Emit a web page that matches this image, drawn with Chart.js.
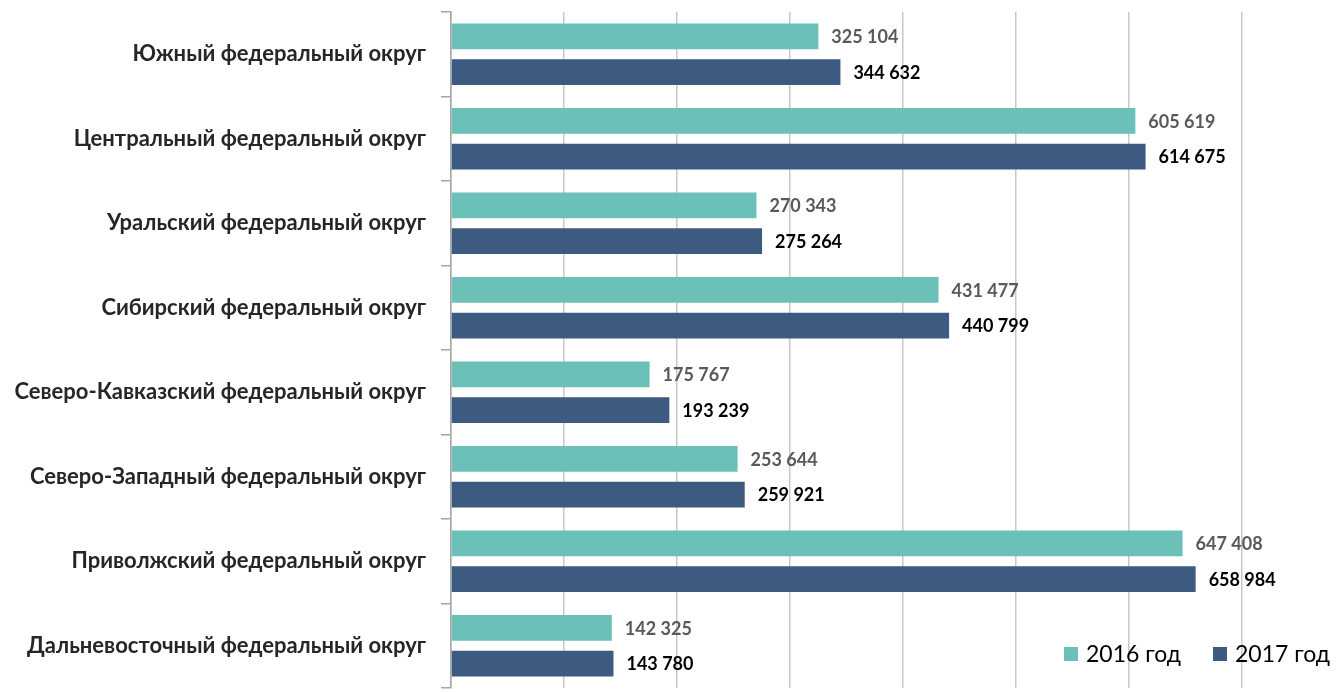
<!DOCTYPE html>
<html><head><meta charset="utf-8">
<script src="https://cdn.jsdelivr.net/npm/chart.js@4"></script>
<style>html,body{margin:0;padding:0;background:#fff;}#wrap{width:1344px;height:692px;}</style>
</head><body><div id="wrap"><canvas id="c" width="1344" height="692"></canvas></div>
<script>
const categories = [
  'Южный федеральный округ',
  'Центральный федеральный округ',
  'Уральский федеральный округ',
  'Сибирский федеральный округ',
  'Северо-Кавказский федеральный округ',
  'Северо-Западный федеральный округ',
  'Приволжский федеральный округ',
  'Дальневосточный федеральный округ'
];
const values2016 = [325104, 605619, 270343, 431477, 175767, 253644, 647408, 142325];
const values2017 = [344632, 614675, 275264, 440799, 193239, 259921, 658984, 143780];
const seriesLabels = ['2016 год', '2017 год'];
const xTicks = [0, 100000, 200000, 300000, 400000, 500000, 600000, 700000];

const FONT = 'Lato';
const fmt = v => String(v).replace(/\B(?=(\d{3})+(?!\d))/g, ' ');

const valueLabels = {
  id: 'valueLabels',
  afterDatasetsDraw(chart) {
    const ctx = chart.ctx;
    ctx.save();
    ctx.textBaseline = 'middle';
    ctx.textAlign = 'left';
    ctx.font = 'bold 18px ' + FONT;
    chart.data.datasets.forEach((ds, i) => {
      const meta = chart.getDatasetMeta(i);
      ctx.fillStyle = i === 0 ? '#595959' : '#000000';
      meta.data.forEach((bar, j) => {
        ctx.fillText(fmt(ds.data[j]), bar.x + 13, bar.y + 1);
      });
    });
    ctx.restore();
  }
};

const customLegend = {
  id: 'customLegend',
  afterDraw(chart) {
    const ctx = chart.ctx;
    ctx.save();
    ctx.font = '23px ' + FONT;
    ctx.textBaseline = 'middle';
    ctx.textAlign = 'left';
    const y = 654;
    const xs = [1064, 1213];
    chart.data.datasets.forEach((ds, i) => {
      ctx.fillStyle = ds.backgroundColor;
      ctx.fillRect(xs[i], y - 7, 14, 14);
      ctx.fillStyle = '#000';
      ctx.fillText(ds.label, xs[i] + 22, y + 1);
    });
    ctx.restore();
  }
};

new Chart(document.getElementById('c'), {
  type: 'bar',
  data: {
    labels: categories,
    datasets: [
      { label: seriesLabels[0], data: values2016, backgroundColor: '#6BC1B7' },
      { label: seriesLabels[1], data: values2017, backgroundColor: '#3D5A80' }
    ]
  },
  options: {
    indexAxis: 'y',
    responsive: false,
    animation: false,
    categoryPercentage: 0.847,
    barPercentage: 0.722,
    layout: { padding: { top: 12, bottom: 4, left: 0, right: 102 } },
    plugins: { legend: { display: false }, tooltip: { enabled: false } },
    scales: {
      x: {
        min: 0, max: 700000,
        afterBuildTicks(axis) { axis.ticks = xTicks.map(v => ({ value: v })); },
        afterFit(axis) { axis.height = 0; axis.paddingLeft = 0; axis.paddingRight = 0; },
        ticks: { display: false },
        grid: { color: '#c8c8c8', lineWidth: 1.5, drawTicks: false },
        border: { display: false }
      },
      y: {
        afterFit(axis) { axis.width = 451; axis.paddingTop = 0; axis.paddingBottom = 0; },
        ticks: { color: '#262626', padding: 15, font: { family: FONT, size: 22, weight: 'bold' } },
        grid: { offset: true, drawOnChartArea: false, drawTicks: true, tickLength: 10, color: '#a6a6a6', lineWidth: 1.5 },
        border: { display: true, color: '#a6a6a6', width: 1.5 }
      }
    }
  },
  plugins: [valueLabels, customLegend]
});
</script>
</body></html>
